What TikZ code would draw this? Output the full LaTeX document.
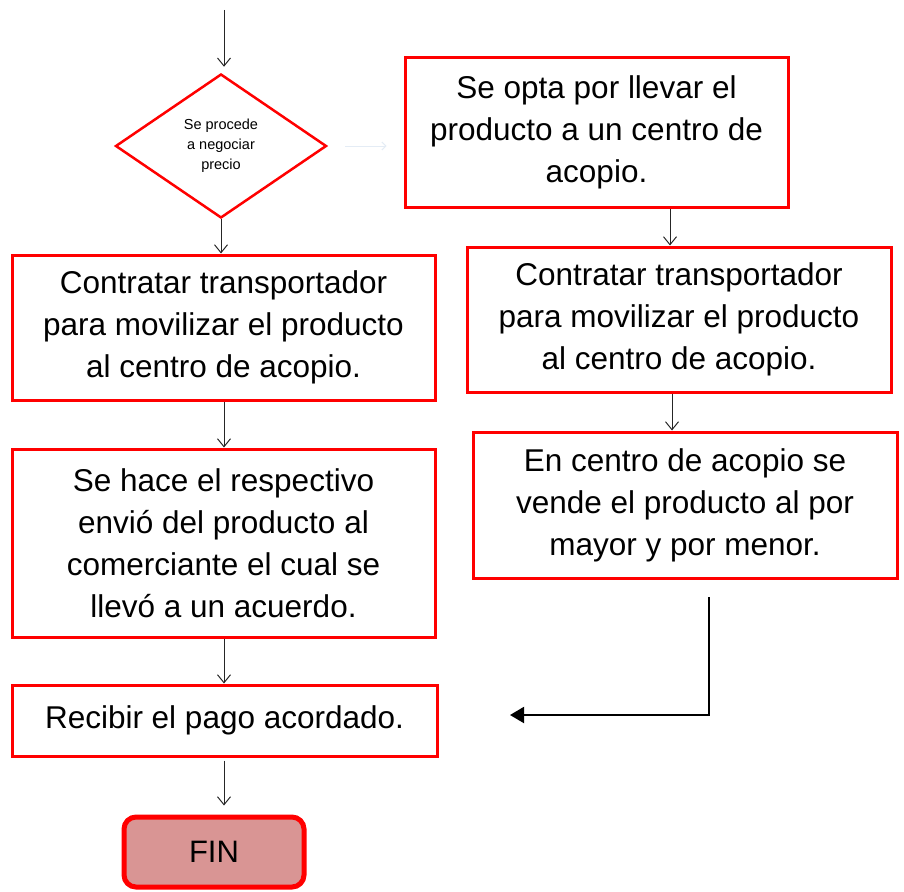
\documentclass[tikz,border=0pt]{standalone}
\usepackage{fontspec}
\setmainfont{Liberation Sans}
\usetikzlibrary{shapes.geometric,arrows.meta,calc}
\definecolor{boxred}{HTML}{FF0000}
\definecolor{finfill}{HTML}{D99594}
\definecolor{faint}{HTML}{E4ECF5}
\tikzset{
  box/.style={draw=boxred, line width=3pt, align=center, inner sep=0pt,
    font=\fontsize{31.5}{42}\selectfont},
  thinarr/.style={draw=black!85, line width=1pt, -{Straight Barb[length=8pt,width=13pt]}},
  bigarr/.style={draw=black, line width=2pt, -{Triangle[length=14pt,width=16pt]}},
}
\begin{document}
\begin{tikzpicture}[x=1pt,y=-1pt]
\useasboundingbox (0,0) rectangle (904,891);
% diamond
\node[diamond, draw=boxred, line width=2.5pt, inner sep=0pt, minimum width=211pt, minimum height=144pt,
  shape aspect=1.47, align=center, font=\fontsize{14.5}{20}\selectfont] (d) at (221,146)
  {Se procede\\a negociar\\precio};
% left column
\node[box, minimum width=423pt, minimum height=145pt] (L1) at (223.5,327.5)
  {Contratar transportador\\para movilizar el producto\\al centro de acopio.};
\node[box, minimum width=423pt, minimum height=188pt] (L2) at (223.5,543)
  {Se hace el respectivo\\envió del producto al\\comerciante el cual se\\llevó a un acuerdo.};
\node[box, minimum width=425pt, minimum height=71pt] (L3) at (224.5,720.5)
  {Recibir el pago acordado.};
\node[draw=boxred, fill=finfill, line width=5pt, rounded corners=12pt, minimum width=180pt,
  minimum height=70pt, inner sep=0pt, font=\fontsize{31}{36}\selectfont] (fin) at (214,852) {FIN};
% right column
\node[box, minimum width=383pt, minimum height=149pt] (R1) at (596.5,132.5)
  {Se opta por llevar el\\producto a un centro de\\acopio.};
\node[box, minimum width=424pt, minimum height=145pt] (R2) at (679,319.5)
  {Contratar transportador\\para movilizar el producto\\al centro de acopio.};
\node[box, minimum width=424pt, minimum height=146pt] (R3) at (685,505)
  {En centro de acopio se\\vende el producto al por\\mayor y por menor.};
% connectors
\coordinate (start) at (224,10);
\draw[thinarr, shorten >=6pt] (start) -- (d.north -| start);
\draw[thinarr] (d.south) -- (L1.north -| d.south);
\draw[thinarr] (L1.south -| start) -- (L2.north -| start);
\draw[thinarr] (L2.south -| start) -- (L3.north -| start);
\draw[thinarr, shorten <=3pt, shorten >=9pt] (L3.south -| start) -- (fin.north -| start);
\draw[faint, line width=1pt, -{Straight Barb[length=4pt,width=8pt]}, shorten <=17pt, shorten >=17pt]
  (d.east) -- (R1.west |- d.east);
\coordinate (rx) at (670,0);
\draw[thinarr] (R1.south -| rx) -- (R2.north -| rx);
\coordinate (rx2) at (672,0);
\draw[thinarr] (R2.south -| rx2) -- (R3.north -| rx2);
\coordinate (e1) at (709,597);
\coordinate (e2) at (510,715);
\draw[bigarr] (e1) |- (e2);
\end{tikzpicture}
\end{document}
